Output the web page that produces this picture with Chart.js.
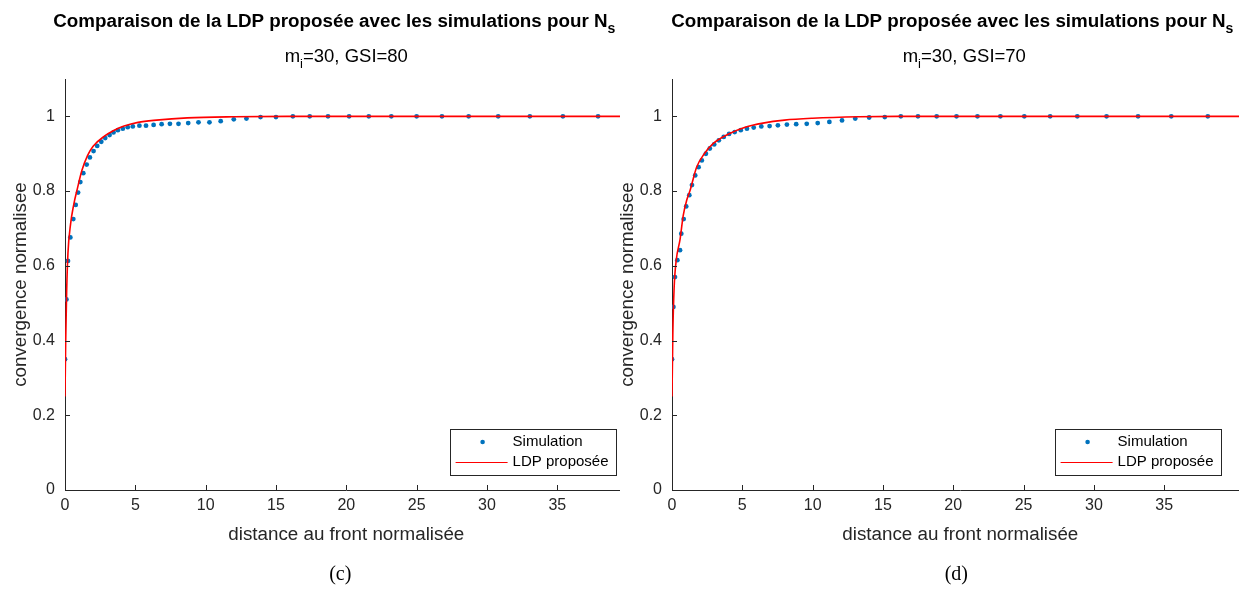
<!DOCTYPE html>
<html>
<head>
<meta charset="utf-8">
<script src="https://cdn.jsdelivr.net/npm/chart.js@4.4.1/dist/chart.umd.min.js"></script>
<style>
  html, body { margin: 0; padding: 0; background: #fff; overflow: hidden; }
  .panel { position: absolute; top: 0; height: 592px; overflow: hidden; }
</style>
</head>
<body>
<div class="panel" style="left:0; width:620px"><canvas id="c1" width="630" height="592"></canvas></div>
<div class="panel" style="left:607px; width:644px"><canvas id="c2" width="644" height="592"></canvas></div>
<script>
// ticks
const xTicks = [0, 5, 10, 15, 20, 25, 30, 35];
const yTicks = [0, 0.2, 0.4, 0.6, 0.8, 1];

// (c) m_i=30, GSI=80 : simulation points
const simX80 = [0, 0.1, 0.21, 0.38, 0.59, 0.76, 0.93, 1.09, 1.30, 1.54, 1.77, 2.03, 2.29, 2.58, 2.86, 3.17, 3.45, 3.76,
  4.11, 4.46, 4.82, 5.29, 5.76, 6.3, 6.87, 7.46, 8.07, 8.76, 9.49, 10.27, 11.07, 12.0, 12.9, 13.9, 15.0, 16.2, 17.4,
  18.7, 20.2, 21.6, 23.2, 25.0, 26.8, 28.7, 30.8, 33.05, 35.4, 37.9];
const simY80 = [0.35, 0.51, 0.613, 0.676, 0.725, 0.763, 0.796, 0.824, 0.848, 0.871, 0.89, 0.907, 0.921, 0.932, 0.942, 0.95, 0.957, 0.963,
  0.967, 0.971, 0.973, 0.975, 0.975, 0.977, 0.979, 0.98, 0.98, 0.982, 0.984, 0.984, 0.987, 0.992, 0.994, 0.998, 0.998, 1.0, 1.0,
  1.0, 1.0, 1.0, 1.0, 1.0, 1.0, 1.0, 1.0, 1.0, 1.0, 1.0];
// LDP curve
const ldpX80 = [0, 0.05, 0.12, 0.21, 0.4, 0.6, 0.9, 1.2, 1.6, 2.0, 2.8, 3.5, 4.2, 5.2, 6.5, 8.7, 12, 16, 40];
const ldpY80 = [0.25, 0.40, 0.535, 0.634, 0.713, 0.76, 0.81, 0.855, 0.895, 0.92, 0.947, 0.963, 0.974, 0.984, 0.99, 0.996, 0.999, 1.0, 1.0];

// (d) m_i=30, GSI=70
const simX70 = [0, 0.1, 0.21, 0.38, 0.57, 0.66, 0.83, 1.01, 1.23, 1.42, 1.65, 1.89, 2.12, 2.41, 2.69, 3.0, 3.33, 3.68,
  4.06, 4.46, 4.89, 5.33, 5.81, 6.35, 6.94, 7.53, 8.17, 8.83, 9.58, 10.36, 11.19, 12.09, 13.03, 14.02, 15.13, 16.27,
  17.49, 18.82, 20.23, 21.72, 23.35, 25.05, 26.89, 28.82, 30.9, 33.14, 35.5, 38.1];
const simY70 = [0.35, 0.49, 0.57, 0.615, 0.642, 0.686, 0.725, 0.759, 0.789, 0.816, 0.842, 0.864, 0.882, 0.90, 0.914, 0.925, 0.936, 0.945,
  0.953, 0.958, 0.963, 0.967, 0.97, 0.973, 0.974, 0.976, 0.978, 0.979, 0.98, 0.982, 0.985, 0.989, 0.994, 0.997, 0.998, 1.0,
  1.0, 1.0, 1.0, 1.0, 1.0, 1.0, 1.0, 1.0, 1.0, 1.0, 1.0, 1.0];
const ldpX70 = [0, 0.06, 0.15, 0.3, 0.57, 0.8, 1.04, 1.27, 1.75, 2.3, 2.92, 4.1, 5.2, 6.47, 8.0, 10.0, 13.3, 16, 41];
const ldpY70 = [0.25, 0.42, 0.54, 0.615, 0.67, 0.735, 0.775, 0.80, 0.864, 0.90, 0.927, 0.954, 0.971, 0.982, 0.99, 0.995, 0.999, 1.0, 1.0];

const FONT = '"Liberation Sans", Arial, sans-serif';
const INK = '#262626';

// draws "a" + subscript "b" + "c", centred on cx
function subText(ctx, size, weight, a, b, c, cx, cy) {
  const big = weight + ' ' + size + 'px ' + FONT;
  const small = weight + ' ' + Math.round(size * 0.72) + 'px ' + FONT;
  ctx.font = big; const wa = ctx.measureText(a).width, wc = ctx.measureText(c).width;
  ctx.font = small; const wb = ctx.measureText(b).width;
  let x = cx - (wa + wb + wc) / 2;
  ctx.textBaseline = 'middle'; ctx.textAlign = 'left'; ctx.fillStyle = '#000';
  ctx.font = big; ctx.fillText(a, x, cy); x += wa;
  ctx.font = small; ctx.fillText(b, x, cy + size * 0.38); x += wb;
  ctx.font = big; ctx.fillText(c, x, cy);
}

const deco = {
  id: 'deco',
  afterDraw(chart, args, o) {
    const { ctx, chartArea: a, scales: { x, y } } = chart;
    ctx.save();
    // inward tick marks
    ctx.strokeStyle = INK; ctx.lineWidth = 1;
    ctx.beginPath();
    xTicks.forEach(v => { const p = Math.round(x.getPixelForValue(v)) + 0.5; ctx.moveTo(p, a.bottom); ctx.lineTo(p, a.bottom - 5); });
    yTicks.forEach(v => { const p = Math.round(y.getPixelForValue(v)) + 0.5; ctx.moveTo(a.left, p); ctx.lineTo(a.left + 5, p); });
    ctx.stroke();

    const cx = (a.left + a.right) / 2 + o.shift;
    subText(ctx, 18.8, 'bold', 'Comparaison de la LDP proposée avec les simulations pour N', 's', '', cx - 12, 22);
    subText(ctx, 18.5, 'normal', 'm', 'i', '=30, GSI=' + o.gsi, cx, 57);

    // legend
    const bw = 166, bh = 46, bx = a.right - o.legR - bw, by = 429;
    ctx.fillStyle = '#fff'; ctx.fillRect(bx, by, bw, bh);
    ctx.strokeStyle = INK; ctx.lineWidth = 1;
    ctx.strokeRect(Math.round(bx) + 0.5, by + 0.5, bw, bh);
    const ds = chart.data.datasets;
    ctx.fillStyle = ds[0].backgroundColor;
    ctx.beginPath(); ctx.arc(bx + 33, by + 13, 2.3, 0, Math.PI * 2); ctx.fill();
    ctx.strokeStyle = ds[1].borderColor; ctx.lineWidth = 1.2;
    ctx.beginPath(); ctx.moveTo(bx + 6, by + 33.5); ctx.lineTo(bx + 58, by + 33.5); ctx.stroke();
    ctx.fillStyle = '#000'; ctx.font = '15px ' + FONT; ctx.textAlign = 'left'; ctx.textBaseline = 'middle';
    ctx.fillText(ds[0].label, bx + 63, by + 13);
    ctx.fillText(ds[1].label, bx + 63, by + 33);

    // caption
    ctx.font = '20px "Liberation Serif", "DejaVu Serif", serif';
    ctx.textAlign = 'center';
    ctx.fillText(o.caption, (a.left + a.right) / 2 + o.capShift, 575);
    ctx.restore();
  }
};

function makeChart(id, sx, sy, lx, ly, xmax, deco_opts) {
  return new Chart(document.getElementById(id), {
    type: 'scatter',
    data: {
      datasets: [
        {
          label: 'Simulation',
          data: sx.map((v, i) => ({ x: v, y: sy[i] })),
          backgroundColor: '#0072BD', borderWidth: 0,
          pointRadius: 2.4, pointHoverRadius: 2.4, order: 1
        },
        {
          label: 'LDP proposée',
          data: lx.map((v, i) => ({ x: v, y: ly[i] })),
          showLine: true, borderColor: '#FF0000', borderWidth: 1.6,
          cubicInterpolationMode: 'monotone', pointRadius: 0, order: 0
        }
      ]
    },
    options: {
      responsive: false, animation: false, devicePixelRatio: 1,
      layout: { padding: { top: 79, left: 0, right: 0, bottom: 0 } },
      plugins: { legend: { display: false }, tooltip: { enabled: false }, deco: deco_opts },
      scales: {
        x: {
          type: 'linear', min: 0, max: xmax,
          afterFit(s) { s.height = 102; },
          afterBuildTicks(s) { s.ticks = xTicks.map(v => ({ value: v })); },
          grid: { display: false, drawTicks: false },
          border: { display: true, color: INK, width: 1 },
          ticks: { padding: 6, color: INK, font: { family: FONT, size: 16 }, maxRotation: 0, autoSkip: false },
          title: { display: true, text: 'distance au front normalisée', color: INK,
                   font: { family: FONT, size: 18.8 }, padding: { top: 0, bottom: 46 } }
        },
        y: {
          type: 'linear', min: 0, max: 1.1,
          afterFit(s) { s.width = 65; },
          afterBuildTicks(s) { s.ticks = yTicks.map(v => ({ value: v })); },
          grid: { display: false, drawTicks: false },
          border: { display: true, color: INK, width: 1 },
          ticks: { padding: 10, color: INK, font: { family: FONT, size: 16 },
                   callback: v => String(Math.round(v * 10) / 10) },
          title: { display: true, text: 'convergence normalisee', color: INK,
                   font: { family: FONT, size: 18.8 }, padding: { top: 10, bottom: 0 } }
        }
      }
    },
    plugins: [deco]
  });
}

makeChart('c1', simX80, simY80, ldpX80, ldpY80, 40, { gsi: 80, caption: '(c)', legR: 12, shift: 0, capShift: -6 });
makeChart('c2', simX70, simY70, ldpX70, ldpY70, 41, { gsi: 70, caption: '(d)', legR: 28, shift: 4, capShift: -4 });
</script>
</body>
</html>
